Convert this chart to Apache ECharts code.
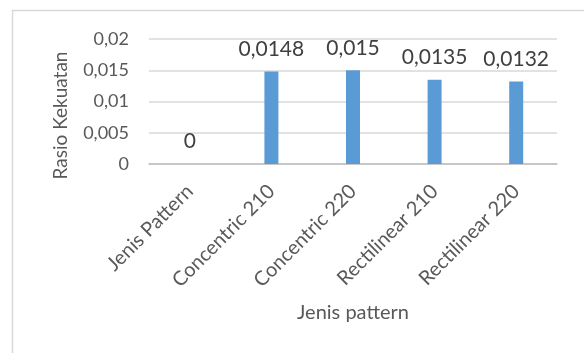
<!DOCTYPE html>
<html>
<head>
<meta charset="utf-8">
<script src="https://cdn.jsdelivr.net/npm/echarts@6/dist/echarts.min.js"></script>
<style>
  html, body { margin: 0; padding: 0; background: #fff; }
  #chart { width: 584px; height: 353px; }
</style>
</head>
<body>
<div id="chart"></div>
<script>
// Strength ratio per infill pattern
const categories = ['Jenis Pattern', 'Concentric 210', 'Concentric 220', 'Rectilinear 210', 'Rectilinear 220'];
const ratioValues = [0, 0.0148, 0.015, 0.0135, 0.0132];
const yTicks = [0, 0.005, 0.01, 0.015, 0.02];

const FONT = 'Lato';
const TEXT = '#595959';

// decimal comma, as in the Indonesian locale
const fmt = v => String(+v.toFixed(6)).replace('.', ',');

const chart = echarts.init(document.getElementById('chart'), null, { renderer: 'canvas' });
chart.setOption({
  animation: false,
  backgroundColor: '#ffffff',
  textStyle: { fontFamily: FONT, color: TEXT },
  graphic: [{
    type: 'rect',
    shape: { x: 12.5, y: 10.5, width: 620, height: 400 },
    style: { fill: 'none', stroke: '#d9d9d9', lineWidth: 1.5 },
    silent: true
  }],
  grid: { left: 149, right: 27, top: 39, bottom: 189, containLabel: false },
  xAxis: {
    type: 'category',
    data: categories,
    name: 'Jenis pattern',
    nameLocation: 'middle',
    nameGap: 139,
    nameTextStyle: { fontFamily: FONT, fontSize: 20, color: TEXT },
    axisLine: { lineStyle: { color: '#bfbfbf', width: 1.5 } },
    axisTick: { show: false },
    axisLabel: { rotate: 45, margin: 24, fontFamily: FONT, fontSize: 20, color: TEXT, interval: 0 }
  },
  yAxis: {
    type: 'value',
    min: yTicks[0],
    max: yTicks[yTicks.length - 1],
    interval: yTicks[1] - yTicks[0],
    name: 'Rasio Kekuatan',
    nameLocation: 'middle',
    nameRotate: 90,
    nameGap: 79,
    nameTextStyle: { fontFamily: FONT, fontSize: 19, color: TEXT, padding: [0, 28, 0, 0] },
    axisLine: { show: false },
    axisTick: { show: false },
    splitLine: { lineStyle: { color: '#d9d9d9', width: 1.5 } },
    axisLabel: { margin: 20, fontFamily: FONT, fontSize: 18, color: TEXT, formatter: v => fmt(v) }
  },
  series: [{
    type: 'bar',
    data: ratioValues,
    barWidth: 14,
    itemStyle: { color: '#5b9bd5' },
    label: {
      show: true,
      position: 'top',
      distance: 12,
      fontFamily: FONT,
      fontSize: 21,
      color: '#404040',
      formatter: p => fmt(p.value)
    }
  }]
});
</script>
</body>
</html>
